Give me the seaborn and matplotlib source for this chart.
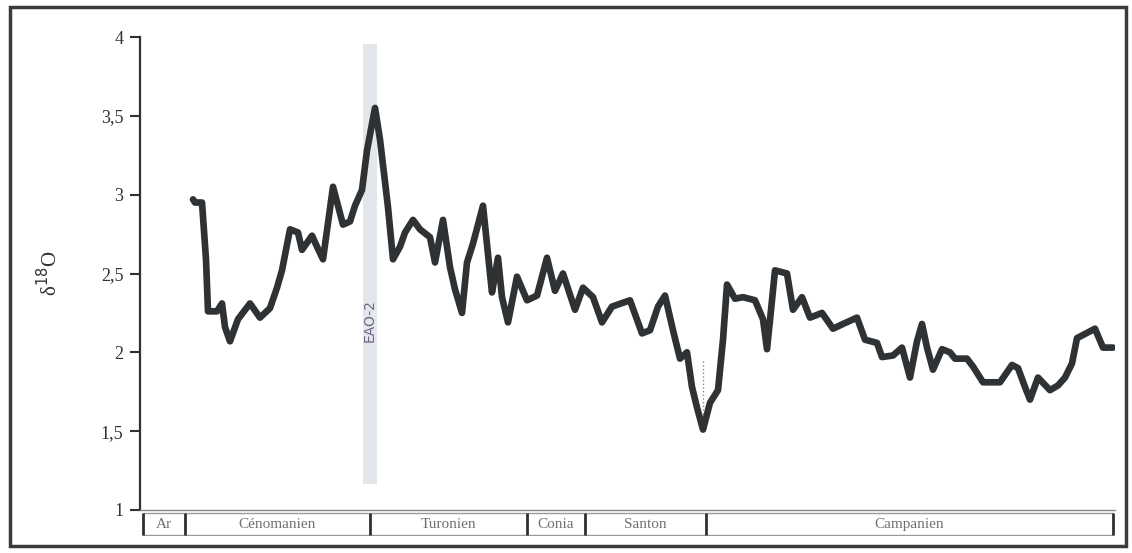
import matplotlib
matplotlib.use('Agg')
import matplotlib.pyplot as plt
from matplotlib.patches import Rectangle
import seaborn as sns
import pandas as pd

#=====DATA=====
# position along the section (arbitrary units, left -> right)
position = [53, 55, 62, 66, 68, 77, 82, 85, 90, 98, 110, 120, 130, 137, 142, 150, 158, 162,
            172, 177, 183, 193, 203, 210, 215, 222, 227, 235, 240, 248, 253, 260, 265, 273,
            280, 290, 295, 303, 310, 315, 322, 327, 333, 343, 350, 352, 358, 362, 368, 377,
            387, 397, 407, 415, 423, 435, 443, 453, 462, 472, 490, 502, 510, 518, 525, 533,
            540, 547, 552, 557, 563, 570, 578, 583, 587, 595, 603, 615, 623, 627, 632, 635,
            647, 653, 662, 670, 682, 693, 703, 717, 725, 737, 742, 753, 762, 770, 777, 782,
            787, 793, 802, 810, 815, 827, 833, 843, 860, 872, 878, 885, 890, 898, 910, 918,
            925, 932, 937, 955, 963, 973]
delta18O = [2.97, 2.95, 2.95, 2.59, 2.26, 2.26, 2.31, 2.16, 2.07, 2.21, 2.31, 2.22, 2.28, 2.41,
            2.52, 2.78, 2.76, 2.65, 2.74, 2.67, 2.59, 3.05, 2.81, 2.83, 2.93, 3.03, 3.28, 3.55,
            3.35, 2.92, 2.59, 2.67, 2.76, 2.84, 2.78, 2.73, 2.57, 2.84, 2.54, 2.40, 2.25, 2.57,
            2.69, 2.93, 2.50, 2.38, 2.60, 2.35, 2.19, 2.48, 2.33, 2.36, 2.60, 2.39, 2.50, 2.27,
            2.41, 2.35, 2.19, 2.29, 2.33, 2.12, 2.14, 2.29, 2.36, 2.14, 1.96, 2.00, 1.78, 1.65,
            1.51, 1.68, 1.76, 2.08, 2.43, 2.34, 2.35, 2.33, 2.21, 2.02, 2.33, 2.52, 2.50, 2.27,
            2.35, 2.22, 2.25, 2.15, 2.18, 2.22, 2.08, 2.06, 1.97, 1.98, 2.03, 1.84, 2.07, 2.18,
            2.03, 1.89, 2.02, 2.00, 1.96, 1.96, 1.91, 1.81, 1.81, 1.92, 1.90, 1.78, 1.70, 1.84,
            1.76, 1.79, 1.84, 1.93, 2.09, 2.15, 2.03, 2.03]

# stratigraphic stages shown under the curve
stage_names = ['Ar', 'Cénomanien', 'Turonien', 'Conia', 'Santon', 'Campanien']
stage_start = [3, 45, 230, 387, 445, 566]
stage_end = [45, 230, 387, 445, 566, 973]

# anoxic event band and minimum marker
eao_label = 'EAO-2'
eao_center = 230
minimum_pos = 563

yticks = [1, 1.5, 2, 2.5, 3, 3.5, 4]
ytick_labels = ['1', '1,5', '2', '2,5', '3', '3,5', '4']

df = pd.DataFrame({'position': position, 'd18O': delta18O})

#=====STYLE=====
sns.set_style('white')
plt.rcParams['font.family'] = ['Liberation Serif', 'DejaVu Serif']
ink = '#2e3234'

W, H = 1132, 553
fig = plt.figure(figsize=(W / 100, H / 100), dpi=100)
ax = fig.add_axes([140 / W, 1 - 510 / H, 975 / W, 473 / H])
ax_st = fig.add_axes([140 / W, 1 - 536 / H, 975 / W, 24 / H], sharex=ax)

#=====MAIN CURVE=====
ax.axvspan(eao_center - 7, eao_center + 7, ymin=0.055, ymax=0.985,
           color='#c9d0da', alpha=0.5, lw=0, zorder=0)
ax.text(eao_center, 2.2, eao_label, rotation=90, ha='center', va='center',
        fontsize=10, color='#6b6786', family='DejaVu Sans', zorder=1)
ax.vlines(minimum_pos, 1.54, 1.95, colors='#888888', linestyles=':', lw=1, zorder=1)

sns.lineplot(data=df, x='position', y='d18O', ax=ax, color=ink, lw=4.8,
             estimator=None, sort=False, zorder=3)

ax.set_xlim(0, 975)
ax.set_ylim(1, 4)
ax.set_yticks(yticks)
ax.set_yticklabels(ytick_labels, fontsize=13, color=ink)
ax.tick_params(axis='y', direction='out', length=7, width=1.5, color=ink, pad=5, left=True)
ax.tick_params(axis='x', bottom=False, labelbottom=False)
ax.set_xlabel('')
ax.set_ylabel('δ$^{18}$O', fontsize=15, color=ink, labelpad=28)
for s in ['top', 'right']:
    ax.spines[s].set_visible(False)
ax.spines['left'].set_color(ink)
ax.spines['left'].set_linewidth(1.6)
ax.spines['bottom'].set_color('#8a8a8a')
ax.spines['bottom'].set_linewidth(1)

#=====STAGE BOXES=====
ax_st.set_ylim(0, 1)
for name, a, b in zip(stage_names, stage_start, stage_end):
    ax_st.add_patch(Rectangle((a, 0.05), b - a, 0.9, facecolor='white',
                              edgecolor='#9a9a9a', lw=1))
    ax_st.text((a + b) / 2, 0.48, name, ha='center', va='center', fontsize=11, color='#707070')
ax_st.vlines(stage_start + [stage_end[-1]], 0.05, 0.95, colors=ink, lw=2)
ax_st.axis('off')

#=====FRAME=====
fig.patches.append(Rectangle((10 / W, 7 / H), 1116 / W, 539 / H, transform=fig.transFigure,
                             fill=False, edgecolor='#3a3a3a', lw=2.5))

fig.savefig('out.png', dpi=100)
plt.close(fig)
